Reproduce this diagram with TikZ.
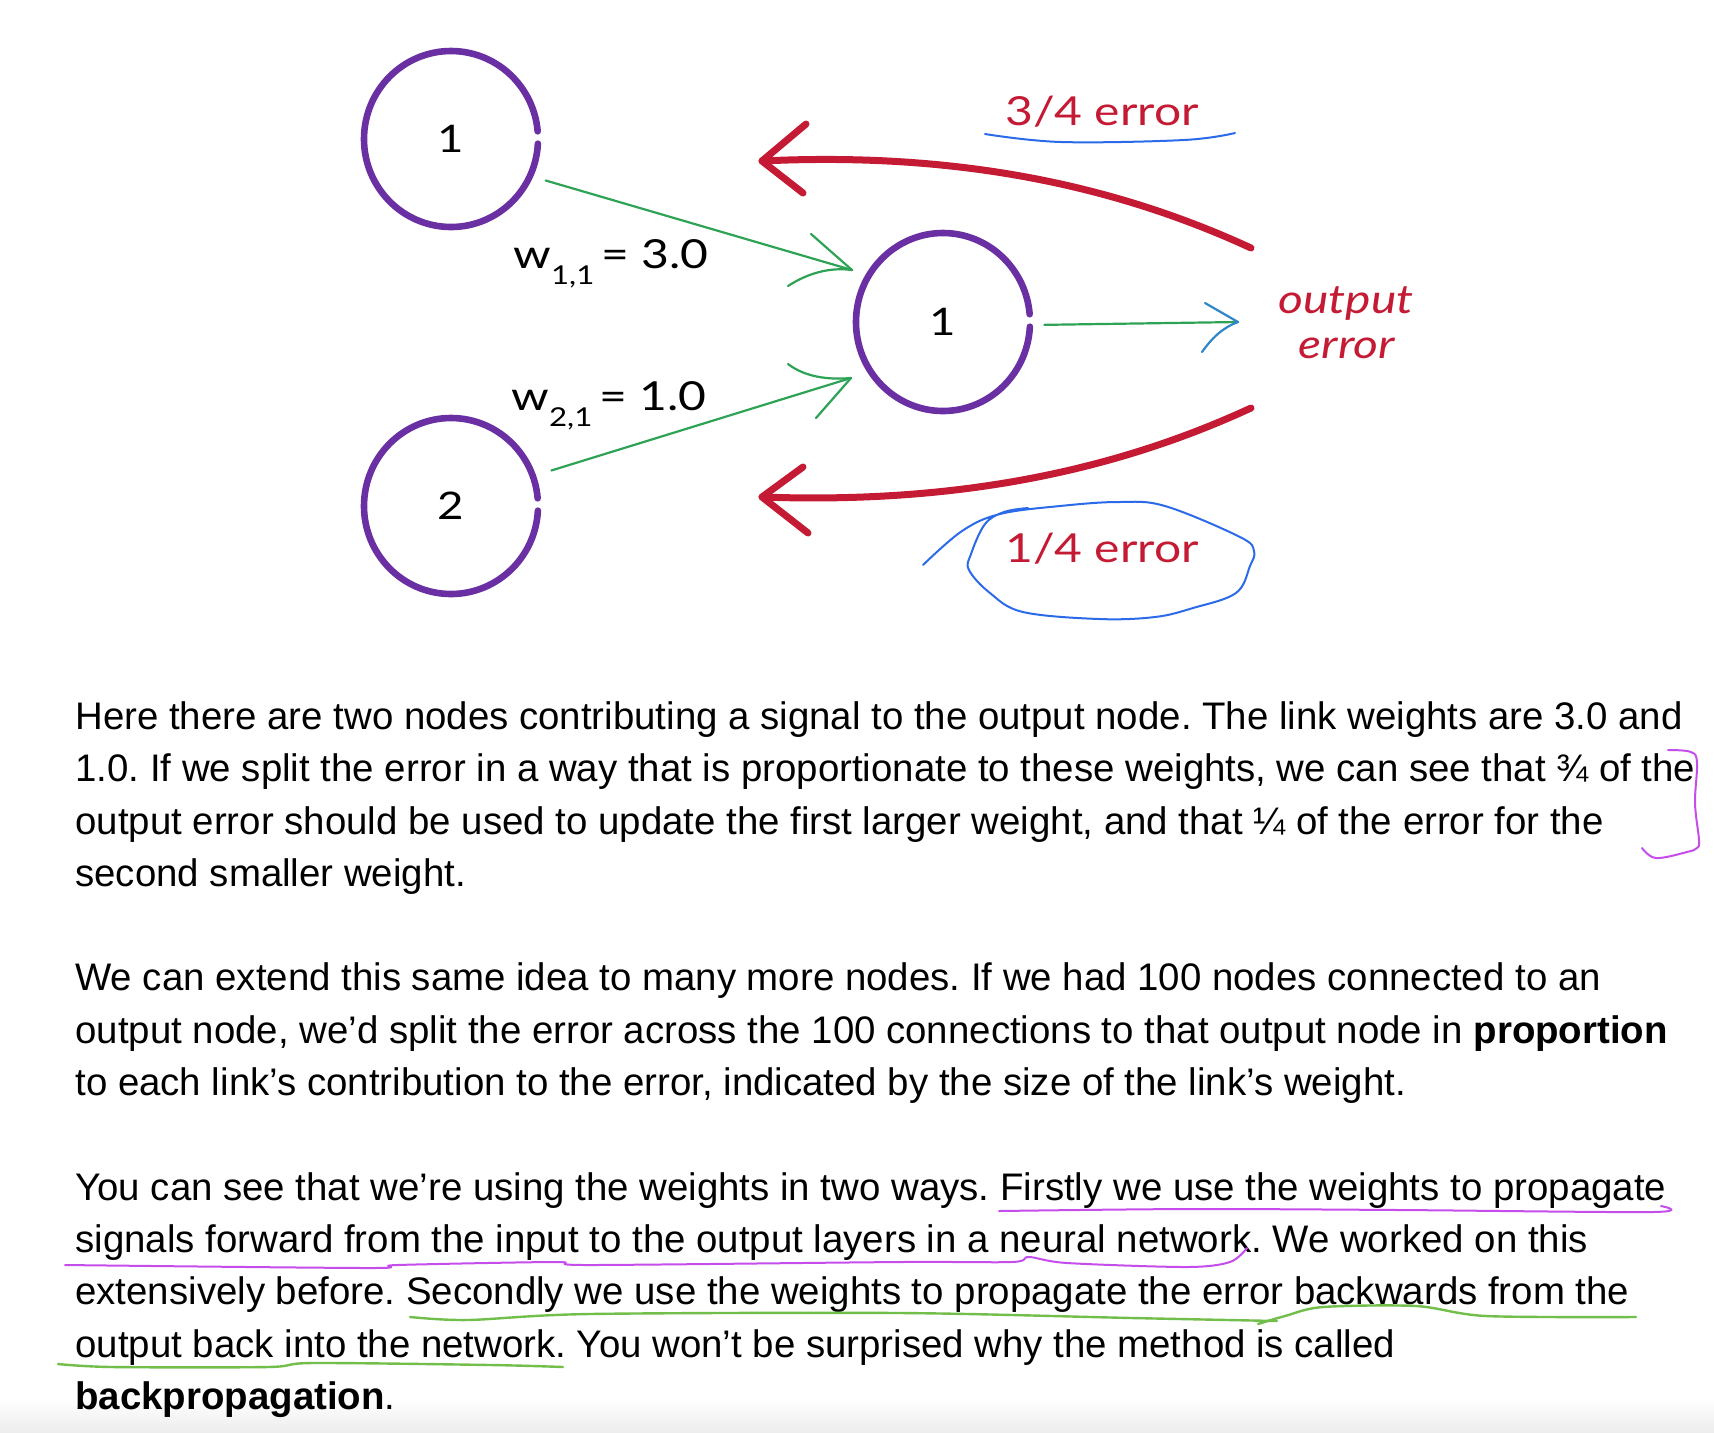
\documentclass[tikz,border=0pt]{standalone}
\usepackage{fontspec}
\setmainfont{Liberation Sans}
\newfontfamily\hand[FakeStretch=1.2]{Lato}
\usetikzlibrary{shapes.geometric}
\definecolor{crayonpurple}{HTML}{6A2FA3}
\definecolor{netgreen}{HTML}{2EA356}
\definecolor{errred}{HTML}{C51A34}
\definecolor{inkblue}{HTML}{2B6BEA}
\definecolor{inkmag}{HTML}{C54DEB}
\definecolor{inkgreen}{HTML}{72BE4A}
\definecolor{headblue}{HTML}{2F86C8}
\frenchspacing
\begin{document}
\begin{tikzpicture}[x=0.5pt,y=-0.5pt,
  neuron/.style={ellipse, minimum width=87pt, minimum height=88pt, inner sep=0pt, font=\hand\fontsize{19}{19}\selectfont},
  crayon/.style={draw=crayonpurple, line width=3.3pt, line cap=round},
  link/.style={draw=netgreen, line width=1.1pt, line cap=round},
  headline/.style={draw=headblue, line width=1.1pt, line cap=round},
  errarrow/.style={draw=errred, line width=3.5pt, line cap=round, line join=round},
  handlabel/.style={text=errred, font=\hand\fontsize{20}{20}\selectfont, inner sep=0pt, anchor=base},
  wlabel/.style={font=\hand\fontsize{20}{20}\selectfont, anchor=base west, inner sep=0pt},
  para/.style={anchor=base west, inner sep=0pt, font=\fontsize{19.2}{26}\selectfont},
  pen/.style={line width=1pt, line cap=round, line join=round},
]
\useasboundingbox (0,0) rectangle (1714,1432);
\fill[white] (0,0) rectangle (1714,1432);
\shade[top color=white, bottom color=black!7] (0,1398) rectangle (1714,1432);

% neurons
\node[neuron] (n1) at (451,139) {1};
\node[neuron] (n2) at (451,506) {2};
\node[neuron] (n3) at (943,322) {1};
\draw[crayon] (n1.center) ++(3:87 and 88) arc[start angle=3, end angle=355, x radius=87, y radius=88];
\draw[crayon] (n2.center) ++(3:87 and 88) arc[start angle=3, end angle=355, x radius=87, y radius=88];
\draw[crayon] (n3.center) ++(3:87 and 89) arc[start angle=3, end angle=355, x radius=87, y radius=89];

% green links
\coordinate (tip1) at (852,270);
\coordinate (tip2) at (851,378);
\coordinate (tip3) at (1238,322);
\draw[link, shorten <=8pt] (n1.-25) -- (tip1);
\draw[link] (811,234) -- (tip1);
\draw[link] (788,286) .. controls (808,273) and (830,267) .. (tip1);
\draw[link, shorten <=9.5pt] (n2.20) -- (tip2);
\draw[link] (788,364) .. controls (805,377) and (828,380) .. (tip2);
\draw[link] (816,418) -- (tip2);
\draw[link, shorten <=7pt] (n3.-2) -- (tip3);
\draw[headline] (1205,303) -- (tip3);
\draw[headline] (1202,352) .. controls (1212,338) and (1222,328) .. (tip3);

% red error arrows
\coordinate (e1s) at (1251,248);
\coordinate (e1t) at (762,161);
\coordinate (e2s) at (1251,408);
\coordinate (e2t) at (762,497);
\draw[errarrow] (e1s) .. controls (1093,175) and (929,153) .. (e1t);
\draw[errarrow] (806,124) -- (e1t) -- (803,193);
\draw[errarrow] (e2s) .. controls (1093,481) and (929,503) .. (e2t);
\draw[errarrow] (803,467) -- (e2t) -- (808,533);

% labels
\node[handlabel] (l34) at (1102,125) {3/4 error};
\node[handlabel] (l14) at (1102,562) {1/4 error};
\node[handlabel, font=\hand\itshape\fontsize{20}{20}\selectfont] (lout) at (1346,313) {output};
\node[handlabel, font=\hand\itshape\fontsize{20}{20}\selectfont] (lerr) at (1347,358) {error};
\node[wlabel] (w11) at (513,268) {w\raisebox{-8pt}{\fontsize{13}{13}\selectfont 1,1}\,= 3.0};
\node[wlabel] (w21) at (511,410) {w\raisebox{-8pt}{\fontsize{13}{13}\selectfont 2,1}\,= 1.0};

% blue pen annotations
\draw[pen, inkblue] plot[smooth, tension=0.6] coordinates {(985,134) (1061,142) (1184,140) (1235,133)};
\draw[pen, inkblue] plot[smooth, tension=0.6] coordinates {(923,565) (962,531) (1000,514) (1060,506) (1118,502) (1165,506) (1240,537) (1254,551) (1250,566) (1236,593) (1193,608) (1155,617) (1099,619) (1023,612) (990,593) (969,570) (971,554) (985,524) (1004,512) (1028,508)};

% paragraphs
\node[para] (t1) at (75,729) {Here there are two nodes contributing a signal to the output node. The link weights are 3.0 and};
\node[para] (t2) at (75,781) {1.0. If we split the error in a way that is proportionate to these weights, we can see that ¾ of the};
\node[para] (t3) at (75,834) {output error should be used to update the first larger weight, and that ¼ of the error for the};
\node[para] (t4) at (75,886) {second smaller weight.};
\node[para] (t5) at (75,990) {We can extend this same idea to many more nodes. If we had 100 nodes connected to an};
\node[para] (t6) at (75,1043) {output node, we’d split the error across the 100 connections to that output node in \textbf{proportion}};
\node[para] (t7) at (75,1095) {to each link’s contribution to the error, indicated by the size of the link’s weight.};
\node[para] (t8) at (75,1200) {You can see that we’re using the weights in two ways. Firstly we use the weights to propagate};
\node[para] (t9) at (75,1252) {signals forward from the input to the output layers in a neural network. We worked on this};
\node[para] (t10) at (75,1304) {extensively before. Secondly we use the weights to propagate the error backwards from the};
\node[para] (t11) at (75,1357) {output back into the network. You won’t be surprised why the method is called};
\node[para] (t12) at (75,1409) {\textbf{backpropagation}.};

% magenta pen annotations
\draw[pen, inkmag] plot[smooth, tension=0.6] coordinates {(1668,750) (1691,752) (1697,763) (1695,803) (1699,840) (1697,848) (1687,852) (1656,858) (1642,848)};
\draw[pen, inkmag] plot[smooth, tension=0.5] coordinates {(999,1211) (1190,1209) (1400,1210) (1653,1212) (1661,1206)};
\draw[pen, inkmag] plot[smooth, tension=0.5] coordinates {(65,1265) (369,1268) (397,1265) (556,1262) (589,1265) (900,1262) (1012,1262) (1029,1257) (1067,1263) (1187,1267) (1230,1262) (1247,1248)};

% green pen annotations
\draw[pen, inkgreen, line width=1.2pt] plot[smooth, tension=0.5] coordinates {(410,1317) (468,1320) (589,1314) (900,1313) (1132,1318) (1277,1321)};
\draw[pen, inkgreen, line width=1.2pt] plot[smooth, tension=0.5] coordinates {(1258,1324) (1285,1316) (1323,1307) (1416,1306) (1486,1316) (1636,1317)};
\draw[pen, inkgreen, line width=1.2pt] plot[smooth, tension=0.5] coordinates {(58,1364) (112,1367) (268,1367) (313,1363) (491,1365) (563,1367)};
\end{tikzpicture}
\end{document}
